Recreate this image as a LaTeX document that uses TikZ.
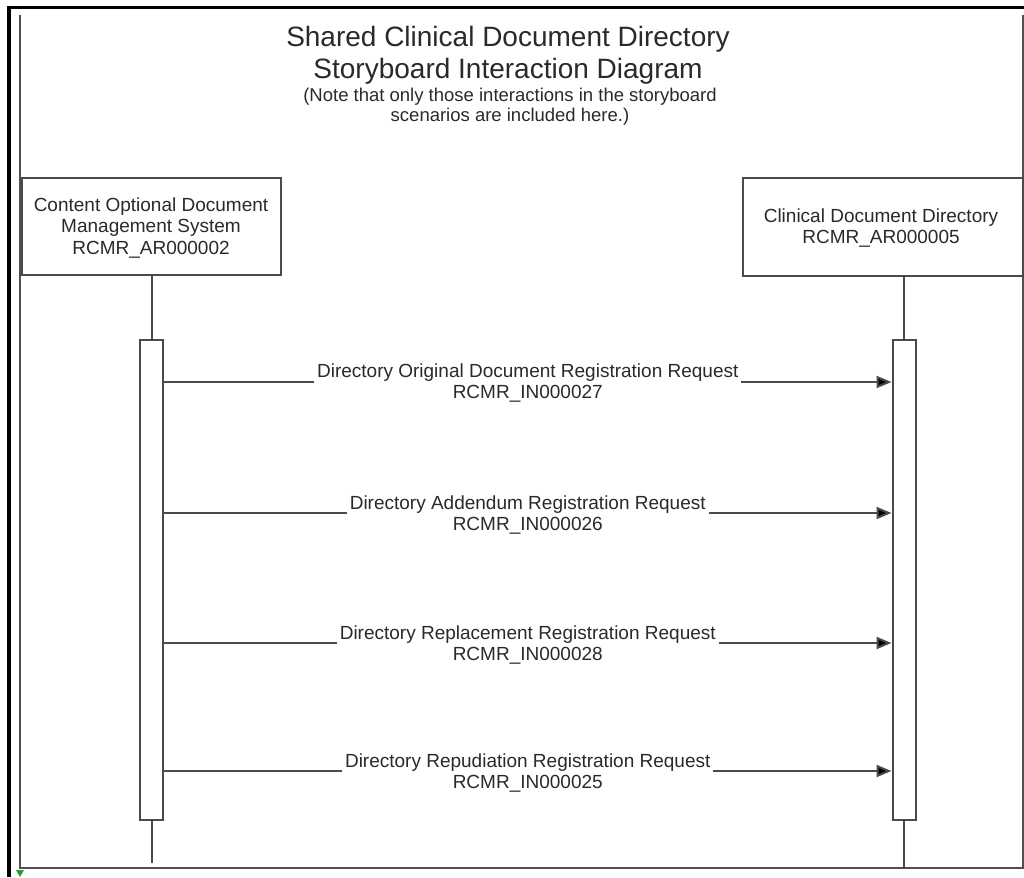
\documentclass[tikz,border=0pt]{standalone}
\usepackage{fontspec}
\setmainfont{Liberation Sans}
\usetikzlibrary{arrows.meta}
\definecolor{ink}{HTML}{2A2A2A}
\definecolor{edge}{HTML}{4A4A4A}
\definecolor{frameg}{HTML}{505050}
\definecolor{markgreen}{HTML}{2E9A2E}
\begin{document}
\begin{tikzpicture}[x=1pt,y=-1pt,
  txt/.style={text=ink,font=\fontsize{19}{21.5}\selectfont,align=center,inner sep=0pt},
  actor/.style={draw=edge,line width=2pt,fill=white,inner sep=0pt},
  bar/.style={draw=edge,line width=2pt,fill=white,minimum width=23pt,minimum height=480pt,inner sep=0pt},
  life/.style={draw=edge,line width=2pt},
  msg/.style={draw=edge,line width=2pt,-{Triangle[length=15pt,width=12pt,fill=black]}},
  lbl/.style={txt,fill=white,inner xsep=3pt,inner ysep=1pt,font=\fontsize{19}{21}\selectfont}
]
\useasboundingbox (0,0) rectangle (1024,877);
\fill[white] (0,0) rectangle (1024,877);
% frame
\draw[frameg,line width=1.8pt] (20,15) -- (20,868) -- (1024,868);
\draw[frameg,line width=1.2pt] (1023,15) -- (1023,868);
\draw[black,line width=3.5pt] (7,7.5) -- (1024,7.5);
\draw[black,line width=4pt] (9,6) -- (9,877);
\fill[markgreen] (16,870) -- (24,870) -- (20,877) -- cycle;
% title
\node[txt,font=\fontsize{28}{32.5}\selectfont] (title) at (508,55.5) {Shared Clinical Document Directory\\Storyboard Interaction Diagram};
\node[txt,font=\fontsize{18.5}{20}\selectfont] (note) at (510,107) {(Note that only those interactions in the storyboard\\scenarios are included here.)};
% actors
\node[actor,minimum width=259pt,minimum height=97pt] (lbox) at (151.5,226.5) {};
\node[txt] (ltext) at (151,228) {Content Optional Document\\Management System\\RCMR\_AR000002};
\node[actor,minimum width=280pt,minimum height=98pt] (rbox) at (883,227) {};
\node[txt] (rtext) at (881,228) {Clinical Document Directory\\RCMR\_AR000005};
% activation bars
\node[bar] (lbar) at (151.5,580) {};
\node[bar] (rbar) at (904,580) {};
\coordinate (lend) at (151.5,863);
\coordinate (rend) at (904,868);
\draw[life] (lbox.south -| lbar.center) -- (lbar.north);
\draw[life] (rbox.south -| rbar.center) -- (rbar.north);
\draw[life] (lbar.south) -- (lend);
\draw[life] (rbar.south) -- (rend);
% messages
\coordinate (m1) at (0,382);
\coordinate (m2) at (0,513);
\coordinate (m3) at (0,643);
\coordinate (m4) at (0,771);
\draw[msg] (lbar.east |- m1) -- node[lbl,yshift=-1.5pt] (l1) {Directory Original Document Registration Request\\RCMR\_IN000027} (rbar.west |- m1);
\draw[msg] (lbar.east |- m2) -- node[lbl,yshift=-1.5pt] (l2) {Directory Addendum Registration Request\\RCMR\_IN000026} (rbar.west |- m2);
\draw[msg] (lbar.east |- m3) -- node[lbl,yshift=-1.5pt] (l3) {Directory Replacement Registration Request\\RCMR\_IN000028} (rbar.west |- m3);
\draw[msg] (lbar.east |- m4) -- node[lbl,yshift=-1.5pt] (l4) {Directory Repudiation Registration Request\\RCMR\_IN000025} (rbar.west |- m4);
\end{tikzpicture}
\end{document}
